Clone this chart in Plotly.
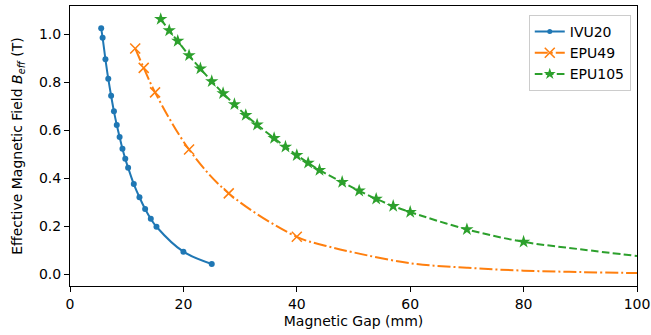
import plotly.graph_objects as go

# IVU20 data (markers)
ivu20_gap = [5.5, 5.75, 6.25, 6.75, 7.25, 7.75, 8.25, 8.75, 9.25, 9.75, 10.25,
             11.25, 12.25, 13.25, 14.25, 15.25, 20, 25]
ivu20_b = [1.024, 0.985, 0.895, 0.814, 0.743, 0.678, 0.621, 0.571, 0.522, 0.480,
           0.443, 0.375, 0.320, 0.271, 0.230, 0.197, 0.093, 0.042]

# EPU49 data (markers) and fitted curve
epu49_gap = [11.5, 13, 15, 21, 28, 40]
epu49_b = [0.940, 0.859, 0.757, 0.519, 0.336, 0.155]
epu49_curve_gap = [11.5, 13, 15, 21, 28, 40, 45, 50, 60, 70, 80, 90, 100]
epu49_curve_b = [0.940, 0.859, 0.757, 0.519, 0.336, 0.155, 0.118, 0.090, 0.045,
                 0.026, 0.014, 0.008, 0.004]

# EPU105 data (markers) and fitted curve
epu105_gap = [16, 17.5, 19, 21, 23, 25, 27, 29, 31, 33, 36, 38, 40, 42, 44, 48,
              51, 54, 57, 60, 70, 80]
epu105_b = [1.062, 1.015, 0.971, 0.911, 0.856, 0.803, 0.753, 0.707, 0.662, 0.622,
            0.566, 0.530, 0.495, 0.463, 0.433, 0.383, 0.347, 0.313, 0.283, 0.258,
            0.186, 0.134]
epu105_curve_gap = epu105_gap + [90, 100]
epu105_curve_b = epu105_b + [0.103, 0.075]

x_ticks = [0, 20, 40, 60, 80, 100]
y_ticks = [0.0, 0.2, 0.4, 0.6, 0.8, 1.0]

C1, C2, C3 = "#1f77b4", "#ff7f0e", "#2ca02c"
LW = 2.0
DASHDOT = "13px,3px,2px,3px"
DASH = "7.7px,3.3px"
FONT = dict(family="DejaVu Sans", size=14, color="black")

fig = go.Figure()

# curves
fig.add_trace(go.Scatter(x=ivu20_gap, y=ivu20_b, mode="lines", line=dict(color=C1, width=LW, shape="spline"), showlegend=False, hoverinfo="skip"))
fig.add_trace(go.Scatter(x=epu49_curve_gap, y=epu49_curve_b, mode="lines", line=dict(color=C2, width=LW, shape="spline", dash=DASHDOT), showlegend=False, hoverinfo="skip"))
fig.add_trace(go.Scatter(x=epu105_curve_gap, y=epu105_curve_b, mode="lines", line=dict(color=C3, width=LW, shape="spline", dash=DASH), showlegend=False, hoverinfo="skip"))

# markers
fig.add_trace(go.Scatter(x=ivu20_gap, y=ivu20_b, mode="markers", marker=dict(color=C1, size=6, symbol="circle"), showlegend=False))
fig.add_trace(go.Scatter(x=epu49_gap, y=epu49_b, mode="markers", marker=dict(color=C2, size=10, symbol="x-thin", line=dict(color=C2, width=1.5)), showlegend=False))
fig.add_trace(go.Scatter(x=epu105_gap, y=epu105_b, mode="markers", marker=dict(color=C3, size=10, symbol="star", line=dict(width=0)), showlegend=False))

# legend entries
fig.add_trace(go.Scatter(x=[None], y=[None], mode="lines+markers", name="IVU20",
                         line=dict(color=C1, width=LW), marker=dict(color=C1, size=5, symbol="circle")))
fig.add_trace(go.Scatter(x=[None], y=[None], mode="lines+markers", name="EPU49",
                         line=dict(color=C2, width=LW, dash=DASHDOT), marker=dict(color=C2, size=10, symbol="x-thin", line=dict(color=C2, width=1.5))))
fig.add_trace(go.Scatter(x=[None], y=[None], mode="lines+markers", name="EPU105",
                         line=dict(color=C3, width=LW, dash=DASH), marker=dict(color=C3, size=9, symbol="star", line=dict(width=0))))

axis_common = dict(showgrid=False, zeroline=False, showline=True, linecolor="black", linewidth=1.1,
                   mirror=True, ticks="outside", ticklen=5, tickwidth=1.1, tickcolor="black",
                   tickfont=FONT, automargin=False)

fig.update_xaxes(range=[0, 100], tickvals=x_ticks, ticktext=[str(v) for v in x_ticks],
                 title=dict(text="Magnetic Gap (mm)", font=FONT, standoff=5),
                 **axis_common)
fig.update_yaxes(range=[-0.05, 1.117], tickvals=y_ticks, ticktext=[f"{v:.1f}" for v in y_ticks],
                 title=dict(text="Effective Magnetic Field <i>B</i><sub><i>eff</i></sub> (T)", font=FONT, standoff=12),
                 **axis_common)

fig.update_layout(
    width=651, height=335,
    margin=dict(l=70, r=14, t=6, b=49),
    plot_bgcolor="white", paper_bgcolor="white",
    font=FONT,
    legend=dict(x=0.989, y=0.968, xanchor="right", yanchor="top",
                bordercolor="#cccccc", borderwidth=1, bgcolor="rgba(255,255,255,0.8)",
                font=FONT, itemwidth=30, tracegroupgap=0),
)

fig.write_html("out.html")
